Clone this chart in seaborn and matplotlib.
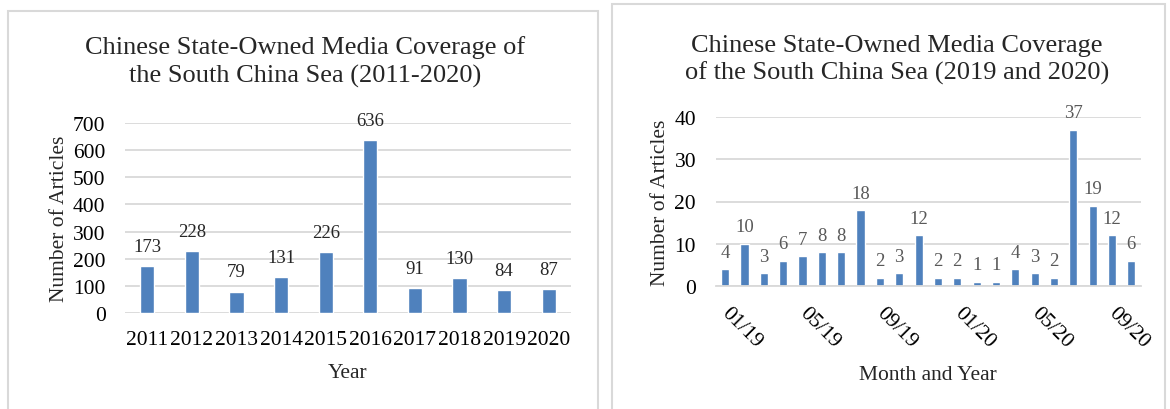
import seaborn as sns
import matplotlib.pyplot as plt
import matplotlib.transforms as mtransforms
from matplotlib.patches import Rectangle

# yearly totals (left chart)
years = ['2011', '2012', '2013', '2014', '2015', '2016', '2017', '2018', '2019', '2020']
year_counts = [173, 228, 79, 131, 226, 636, 91, 130, 84, 87]

# monthly totals 01/19 - 10/20 (right chart)
months = ['01/19', '02/19', '03/19', '04/19', '05/19', '06/19', '07/19', '08/19',
          '09/19', '10/19', '11/19', '12/19', '01/20', '02/20', '03/20', '04/20',
          '05/20', '06/20', '07/20', '08/20', '09/20', '10/20']
month_counts = [4, 10, 3, 6, 7, 8, 8, 18, 2, 3, 12, 2, 2, 1, 1, 4, 3, 2, 37, 19, 12, 6]

sns.set_theme(style='white')
plt.rcParams['font.family'] = ['Liberation Serif', 'DejaVu Serif']

BLUE = '#4F81BD'
GRID = '#D9D9D9'
W, H = 1170, 410

fig = plt.figure(figsize=(11.7, 4.1), dpi=100)

# panel frames
fig.add_artist(Rectangle((8 / W, -0.1), 590 / W, 1.1 - 12 / H, transform=fig.transFigure,
                         fill=False, edgecolor=GRID, lw=1.5))
fig.add_artist(Rectangle((612 / W, -0.1), 553 / W, 1.1 - 5 / H, transform=fig.transFigure,
                         fill=False, edgecolor=GRID, lw=1.5))

# ---------------- left: by year ----------------
ax1 = fig.add_axes([125 / W, 96 / H, 446 / W, 190 / H])
sns.barplot(x=years, y=year_counts, color=BLUE, width=0.32, saturation=1, ax=ax1)
ax1.set_ylim(0, 700)
ax1.set_xlim(-0.5, len(years) - 0.5)
ax1.set_yticks(range(0, 701, 100))
ax1.grid(axis='y', color=GRID, lw=1.3)
ax1.set_axisbelow(True)
for s in ax1.spines.values():
    s.set_visible(False)
ax1.tick_params(axis='both', length=0, labelsize=15.5, colors='black')
ax1.tick_params(axis='y', pad=14)
ax1.tick_params(axis='x', pad=12)
ax1.bar_label(ax1.containers[0], padding=8, fontsize=13.5, color='#262626')
ax1.set_xlabel('Year', fontsize=15.5, labelpad=10)
ax1.set_ylabel('Number of Articles', fontsize=15.5, labelpad=3)
fig.text(305 / W, 1 - 62 / H,
         'Chinese State-Owned Media Coverage of\nthe South China Sea (2011-2020)',
         ha='center', va='center', fontsize=19, linespacing=1.3)

# ---------------- right: by month ----------------
ax2 = fig.add_axes([715.5 / W, 123 / H, 425.5 / W, 169 / H])
sns.barplot(x=months, y=month_counts, color=BLUE, width=0.42, saturation=1, ax=ax2)
ax2.set_ylim(0, 40)
ax2.set_xlim(-0.5, len(months) - 0.5)
ax2.set_yticks(range(0, 41, 10))
ax2.grid(axis='y', color=GRID, lw=1.3)
ax2.set_axisbelow(True)
for s in ax2.spines.values():
    s.set_visible(False)
ax2.spines['bottom'].set_visible(True)
ax2.spines['bottom'].set_color(GRID)
ax2.spines['bottom'].set_linewidth(1.3)
tick_pos = [i - 0.5 for i in range(0, len(months), 4)]
ax2.set_xticks(tick_pos)
ax2.set_xticklabels(months[::4], rotation=-45, ha='left', va='top', rotation_mode='anchor')
ax2.tick_params(axis='x', length=7, width=1.3, color=GRID, pad=5, labelsize=15.5, labelcolor='black')
ax2.tick_params(axis='y', length=0, pad=14, labelsize=15.5, labelcolor='black')
shift = mtransforms.ScaledTranslation(11.5 / 72, 0, fig.dpi_scale_trans)
for lab in ax2.get_xticklabels():
    lab.set_transform(lab.get_transform() + shift)
ax2.bar_label(ax2.containers[0], padding=6, fontsize=13.5, color='#595959')
ax2.set_xlabel('Month and Year', fontsize=15.5, labelpad=10)
ax2.set_ylabel('Number of Articles', fontsize=15.5, labelpad=3)
fig.text(897 / W, 1 - 60 / H,
         'Chinese State-Owned Media Coverage\nof the South China Sea (2019 and 2020)',
         ha='center', va='center', fontsize=19, linespacing=1.3)

fig.savefig('out.png', dpi=100)
